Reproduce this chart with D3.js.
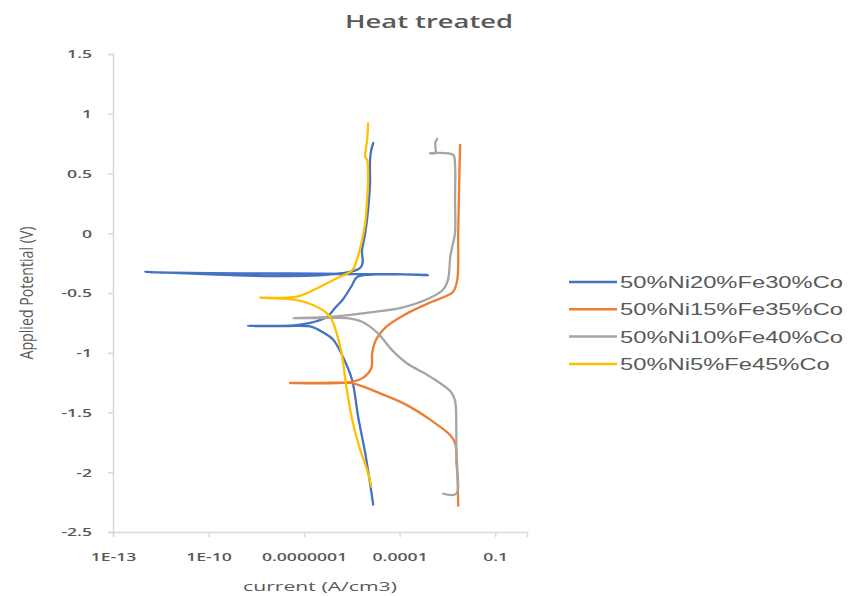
<!DOCTYPE html>
<html>
<head>
<meta charset="utf-8">
<script src="https://cdn.jsdelivr.net/npm/d3@7"></script>
<style>
  body { margin: 0; background: #fff; }
  svg { display: block; }
</style>
</head>
<body>
<div id="container"></div>
<script>
// chart title and axis titles
const title = "Heat treated";
const xTitle = "current (A/cm3)";
const yTitle = "Applied Potential (V)";

// tick values
const xTicks = [1e-13, 1e-10, 1e-7, 1e-4, 0.1];
const xTickLabels = ["1E-13", "1E-10", "0.0000001", "0.0001", "0.1"];
const yTicks = [1.5, 1, 0.5, 0, -0.5, -1, -1.5, -2, -2.5];

// series names and colours
const seriesNames = ["50%Ni20%Fe30%Co", "50%Ni15%Fe35%Co", "50%Ni10%Fe40%Co", "50%Ni5%Fe45%Co"];
const seriesColors = ["#4472C4", "#ED7D31", "#A5A5A5", "#FFC000"];

// curves: log10 of current (A/cm3) and potential (V)
const blueLogI = [-4.83, -4.93, -5.08, -5.30, -5.49, -5.77, -6.09, -6.40, -6.81, -7.53, -8.76,
  -7.12, -6.28, -6.03, -5.77, -5.49, -5.33, -3.10, -11.99, -5.24, -5.18, -5.08, -4.99, -4.93, -4.93, -4.89, -4.83];
const blueV = [-2.27, -2.09, -1.84, -1.54, -1.23, -1.04, -0.89, -0.83, -0.78, -0.776, -0.776,
  -0.764, -0.70, -0.626, -0.55, -0.433, -0.366, -0.349, -0.324, -0.29, -0.14, 0.00, 0.195, 0.42, 0.613, 0.697, 0.755];

const orangeLogI = [-2.16, -2.19, -2.26, -2.41, -3.04, -3.83, -4.61, -5.18, -5.55, -6.50, -7.44,
  -5.55, -5.15, -4.89, -4.86, -4.74, -4.45, -3.83, -3.04, -2.57, -2.32, -2.19, -2.16, -2.13, -2.10];
const orangeV = [-2.28, -1.98, -1.755, -1.69, -1.56, -1.43, -1.34, -1.28, -1.253, -1.253, -1.253,
  -1.245, -1.21, -1.13, -1.00, -0.89, -0.79, -0.68, -0.58, -0.53, -0.49, -0.39, 0.0, 0.42, 0.74];

const grayLogI = [-2.63, -2.22, -2.22, -2.22, -2.26, -2.38, -3.04, -3.76, -4.23, -4.71, -5.18, -5.65, -6.50, -7.35,
  -6.18, -5.15, -3.89, -3.04, -2.63, -2.48, -2.41, -2.35, -2.26, -2.26, -2.26, -2.32, -3.04, -2.88, -2.88, -2.82];
const grayV = [-2.18, -2.18, -1.90, -1.65, -1.40, -1.33, -1.20, -1.09, -0.98, -0.83, -0.74, -0.71, -0.71, -0.71,
  -0.70, -0.67, -0.62, -0.54, -0.47, -0.39, -0.20, -0.115, 0.0, 0.278, 0.57, 0.655, 0.67, 0.67, 0.755, 0.79];

const yellowLogI = [-4.89, -5.02, -5.24, -5.49, -5.68, -5.81, -5.93, -6.12, -6.28, -6.72, -7.22, -7.75, -8.38,
  -7.22, -6.59, -5.96, -5.49, -5.33, -5.18, -5.08, -5.02, -4.99, -5.02, -5.08, -5.02, -4.99];
const yellowV = [-2.12, -1.98, -1.81, -1.56, -1.27, -1.02, -0.88, -0.73, -0.67, -0.60, -0.56, -0.546, -0.54,
  -0.53, -0.46, -0.375, -0.31, -0.21, -0.06, 0.086, 0.278, 0.47, 0.613, 0.64, 0.78, 0.92];

const seriesLogI = [blueLogI, orangeLogI, grayLogI, yellowLogI];
const seriesV = [blueV, orangeV, grayV, yellowV];

const width = 859;
const height = 596;
const textColor = "#595959";
const axisColor = "#D9D9D9";
const STRETCH = 1.6; // tick text in the picture is drawn wide
const LEGEND_WIDTH = 223; // width of the longest legend label

draw();

function draw() {
  const svg = d3.select("#container")
    .append("svg")
    .attr("width", width)
    .attr("height", height);

  const x = d3.scaleLog().domain([1e-13, 1]).range([113, 527]);
  const y = d3.scaleLinear().domain([-2.5, 1.5]).range([532, 54]);

  // y axis
  const yAxis = d3.axisLeft(y).tickValues(yTicks).tickSize(5);
  const gy = svg.append("g").attr("transform", "translate(113,0)").call(yAxis);
  gy.select(".domain").attr("stroke", axisColor).attr("stroke-width", 1.5);
  gy.selectAll(".tick line").attr("stroke", axisColor).attr("stroke-width", 1.5);
  gy.selectAll(".tick text")
    .attr("x", -21)
    .attr("dy", "0.35em")
    .attr("fill", textColor)
    .style("font-family", "'Open Sans', sans-serif")
    .style("font-size", "11px")
    .style("font-weight", 600)
    .text((d) => String(d));

  // x axis
  const xAxis = d3.axisBottom(x).tickValues(xTicks).tickSize(5)
    .tickFormat((d, i) => xTickLabels[i]);
  const gx = svg.append("g").attr("transform", "translate(0,532)").call(xAxis);
  gx.select(".domain").attr("stroke", axisColor).attr("stroke-width", 1.5);
  gx.selectAll(".tick line").attr("stroke", axisColor).attr("stroke-width", 1.5);
  gx.selectAll(".tick text")
    .attr("y", 25)
    .attr("dy", "0.35em")
    .attr("fill", textColor)
    .style("font-family", "'Open Sans', sans-serif")
    .style("font-size", "11px")
    .style("font-weight", 600);

  // curves
  const line = d3.line()
    .x((d) => x(Math.pow(10, d[0])))
    .y((d) => y(d[1]))
    .curve(d3.curveCatmullRom.alpha(0.5));

  seriesNames.forEach((name, i) => {
    const pts = seriesLogI[i].map((v, j) => [v, seriesV[i][j]]);
    svg.append("path")
      .datum(pts)
      .attr("fill", "none")
      .attr("stroke", seriesColors[i])
      .attr("stroke-width", 2.3)
      .attr("stroke-linejoin", "round")
      .attr("stroke-linecap", "round")
      .attr("d", line);
  });

  // title
  svg.append("text")
    .attr("x", 429).attr("y", 28)
    .attr("text-anchor", "middle")
    .attr("fill", textColor)
    .style("font-family", "'Open Sans', sans-serif")
    .style("font-size", "18px")
    .style("font-weight", 600)
    .attr("textLength", 168)
    .attr("lengthAdjust", "spacingAndGlyphs")
    .text(title);

  // x title
  svg.append("text")
    .attr("x", 320).attr("y", 591)
    .attr("text-anchor", "middle")
    .attr("fill", textColor)
    .style("font-family", "'Open Sans', sans-serif")
    .style("font-size", "13px")
    .attr("textLength", 154)
    .attr("lengthAdjust", "spacingAndGlyphs")
    .text(xTitle);

  // y title
  svg.append("text")
    .attr("transform", "translate(33,293) scale(1.5,1) rotate(-90)")
    .attr("text-anchor", "middle")
    .attr("fill", textColor)
    .style("font-family", "'Open Sans', sans-serif")
    .style("font-size", "12px")
    .attr("textLength", 133)
    .attr("lengthAdjust", "spacingAndGlyphs")
    .text(yTitle);

  // legend
  const legend = svg.append("g").attr("transform", "translate(569,282)");
  seriesNames.forEach((name, i) => {
    const row = legend.append("g").attr("transform", "translate(0," + i * 27.3 + ")");
    row.append("line")
      .attr("x1", 0).attr("x2", 48)
      .attr("stroke", seriesColors[i])
      .attr("stroke-width", 2.5);
    row.append("text")
      .attr("class", "legend-text")
      .attr("x", 51).attr("y", 6)
      .attr("fill", textColor)
      .style("font-family", "'Liberation Sans', Arial, sans-serif")
      .style("font-size", "16px")
      .text(name);
  });

  // stretch the tick text horizontally
  svg.selectAll(".tick text").each(function () {
    const w = this.getComputedTextLength();
    d3.select(this)
      .attr("textLength", w * STRETCH)
      .attr("lengthAdjust", "spacingAndGlyphs");
  });

  // stretch the legend text so the longest label fits its width in the picture
  const legendTexts = svg.selectAll(".legend-text");
  const longest = d3.max(legendTexts.nodes(), (n) => n.getComputedTextLength());
  const k = LEGEND_WIDTH / longest;
  legendTexts.each(function () {
    const w = this.getComputedTextLength();
    d3.select(this)
      .attr("textLength", w * k)
      .attr("lengthAdjust", "spacingAndGlyphs");
  });
}
</script>
</body>
</html>
